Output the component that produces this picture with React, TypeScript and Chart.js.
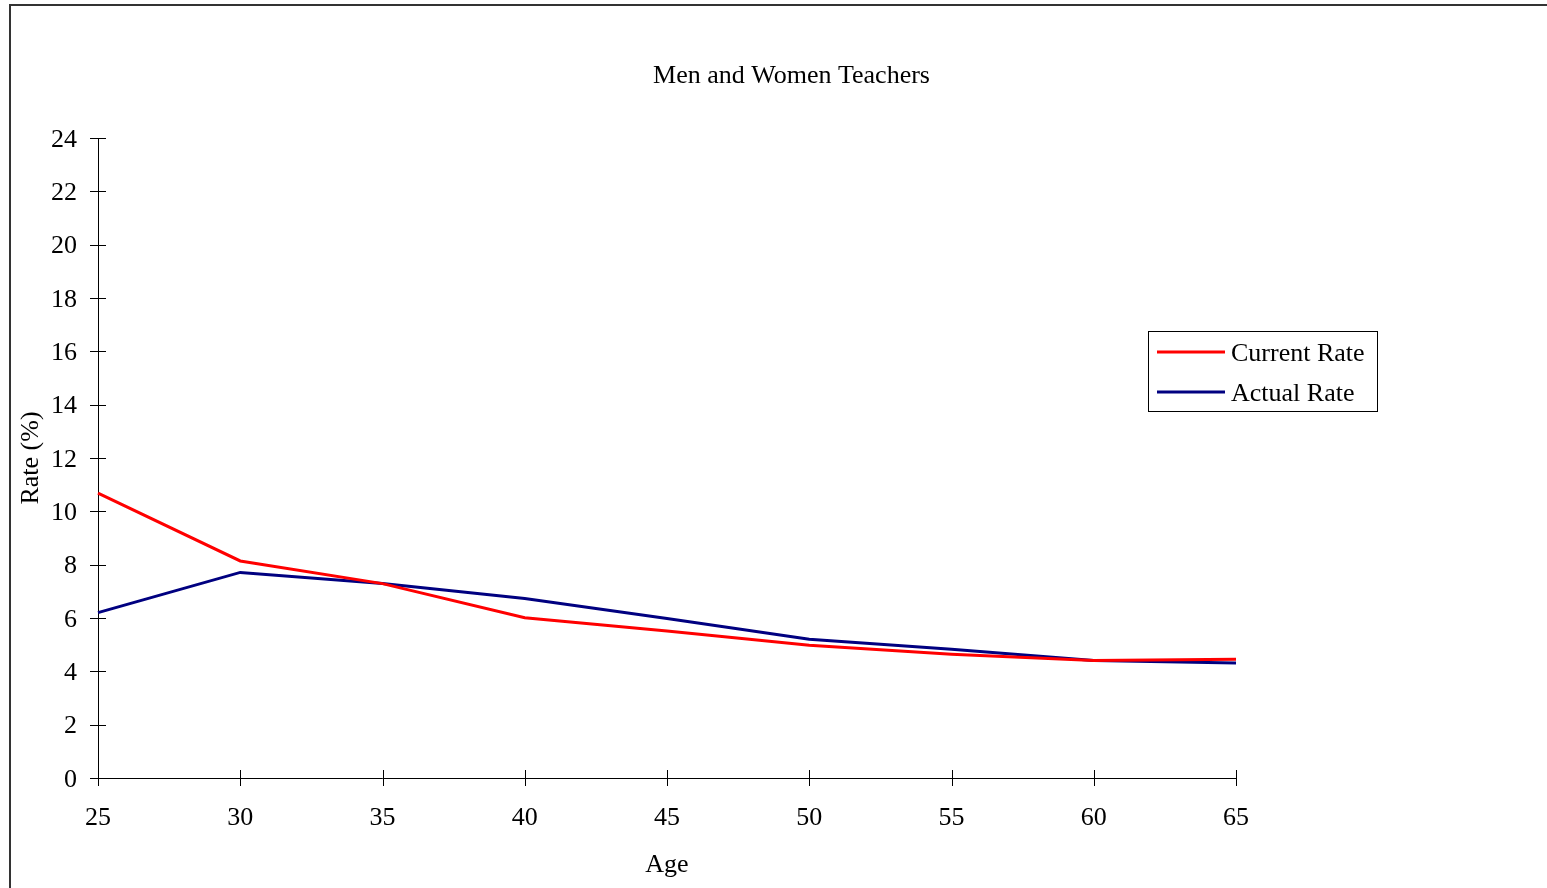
import React, { useEffect, useRef } from "react";
import { Chart, registerables } from "chart.js";

Chart.register(...registerables);

const ages = ["25", "30", "35", "40", "45", "50", "55", "60", "65"];
const currentRate = [10.68, 8.14, 7.29, 6.01, 5.51, 4.98, 4.64, 4.41, 4.45];
const actualRate = [6.2, 7.71, 7.29, 6.73, 5.98, 5.2, 4.83, 4.41, 4.31];
const seriesNames = ["Current Rate", "Actual Rate"];
const seriesColors = ["#FF0000", "#000080"];
const chartTitle = "Men and Women Teachers";
const xTitle = "Age";
const yTitle = "Rate (%)";

const FONT = "'Liberation Serif', 'Times New Roman', Times, serif";

const crossTicks = {
  id: "crossTicks",
  afterDraw(chart: any) {
    const ctx = chart.ctx;
    const xs = chart.scales.x;
    const ys = chart.scales.y;
    const area = chart.chartArea;
    ctx.save();
    ctx.strokeStyle = "#000";
    ctx.lineWidth = 1;
    ctx.beginPath();
    ys.ticks.forEach((t: any) => {
      const y = Math.round(ys.getPixelForValue(t.value)) + 0.5;
      ctx.moveTo(area.left - 8, y);
      ctx.lineTo(area.left + 8, y);
    });
    xs.ticks.forEach((t: any, i: number) => {
      const x = Math.round(xs.getPixelForTick(i)) + 0.5;
      ctx.moveTo(x, area.bottom - 8);
      ctx.lineTo(x, area.bottom + 8);
    });
    ctx.stroke();
    ctx.restore();
  },
};

const boxLegend = {
  id: "boxLegend",
  afterDraw(chart: any) {
    const ctx = chart.ctx;
    const left = 1148.5;
    const top = 331.5;
    const w = 229;
    const h = 80;
    ctx.save();
    ctx.fillStyle = "#fff";
    ctx.fillRect(left, top, w, h);
    ctx.strokeStyle = "#000";
    ctx.lineWidth = 1;
    ctx.strokeRect(left, top, w, h);
    ctx.font = `26px ${FONT}`;
    ctx.textBaseline = "middle";
    ctx.textAlign = "left";
    chart.data.datasets.forEach((ds: any, i: number) => {
      const y = 352 + i * 40;
      ctx.strokeStyle = ds.borderColor;
      ctx.lineWidth = 3;
      ctx.beginPath();
      ctx.moveTo(1157, y);
      ctx.lineTo(1225, y);
      ctx.stroke();
      ctx.fillStyle = "#000";
      ctx.fillText(ds.label, 1231, y + 2);
    });
    ctx.restore();
  },
};

export default function App() {
  const ref = useRef<HTMLCanvasElement>(null);

  useEffect(() => {
    if (!ref.current) return;
    const chart = new Chart(ref.current, {
      type: "line",
      data: {
        labels: ages,
        datasets: [
          {
            label: seriesNames[0],
            data: currentRate,
            borderColor: seriesColors[0],
            backgroundColor: seriesColors[0],
            borderWidth: 3,
            pointRadius: 0,
            tension: 0,
          },
          {
            label: seriesNames[1],
            data: actualRate,
            borderColor: seriesColors[1],
            backgroundColor: seriesColors[1],
            borderWidth: 3,
            pointRadius: 0,
            tension: 0,
          },
        ],
      },
      options: {
        animation: false,
        responsive: false,
        devicePixelRatio: 1,
        layout: { padding: 0 },
        plugins: {
          legend: { display: false },
          tooltip: { enabled: false },
          title: {
            display: true,
            text: chartTitle,
            color: "#000",
            font: { family: FONT, size: 26, weight: "normal" },
            padding: { top: 60.4, bottom: 46.4 },
          },
        },
        scales: {
          x: {
            type: "category",
            offset: false,
            afterFit: (s: any) => {
              s.height = 110;
            },
            grid: { display: false, drawTicks: false },
            border: { display: true, color: "#000", width: 1 },
            ticks: {
              color: "#000",
              padding: 25,
              maxRotation: 0,
              autoSkip: false,
              font: { family: FONT, size: 26 },
            },
            title: {
              display: true,
              text: xTitle,
              color: "#000",
              padding: 7.4,
              font: { family: FONT, size: 26 },
            },
          },
          y: {
            min: 0,
            max: 24,
            afterFit: (s: any) => {
              s.width = 98;
            },
            grid: { display: false, drawTicks: false },
            border: { display: true, color: "#000", width: 1 },
            ticks: {
              stepSize: 2,
              color: "#000",
              padding: 21,
              labelOffset: 2,
              font: { family: FONT, size: 26 },
            },
            title: {
              display: true,
              text: yTitle,
              color: "#000",
              padding: 16,
              font: { family: FONT, size: 26 },
            },
          },
          spacer: {
            type: "linear",
            axis: "y",
            position: "right",
            display: true,
            afterFit: (s: any) => {
              s.width = 347;
            },
            grid: { display: false, drawTicks: false },
            border: { display: false },
            ticks: { display: false },
          },
        },
      },
      plugins: [crossTicks, boxLegend],
    } as any);
    return () => chart.destroy();
  }, []);

  return (
    <div
      style={{
        position: "fixed",
        left: 0,
        top: 0,
        width: 1547,
        height: 888,
        overflow: "hidden",
        background: "#fff",
      }}
    >
      <canvas
        ref={ref}
        width={1583}
        height={888}
        style={{ position: "absolute", left: 0, top: 0, width: 1583, height: 888 }}
      />
      <div
        style={{
          position: "absolute",
          left: 9,
          top: 4,
          width: 1562,
          height: 920,
          border: "2px solid #333",
          boxSizing: "border-box",
          pointerEvents: "none",
        }}
      />
    </div>
  );
}
